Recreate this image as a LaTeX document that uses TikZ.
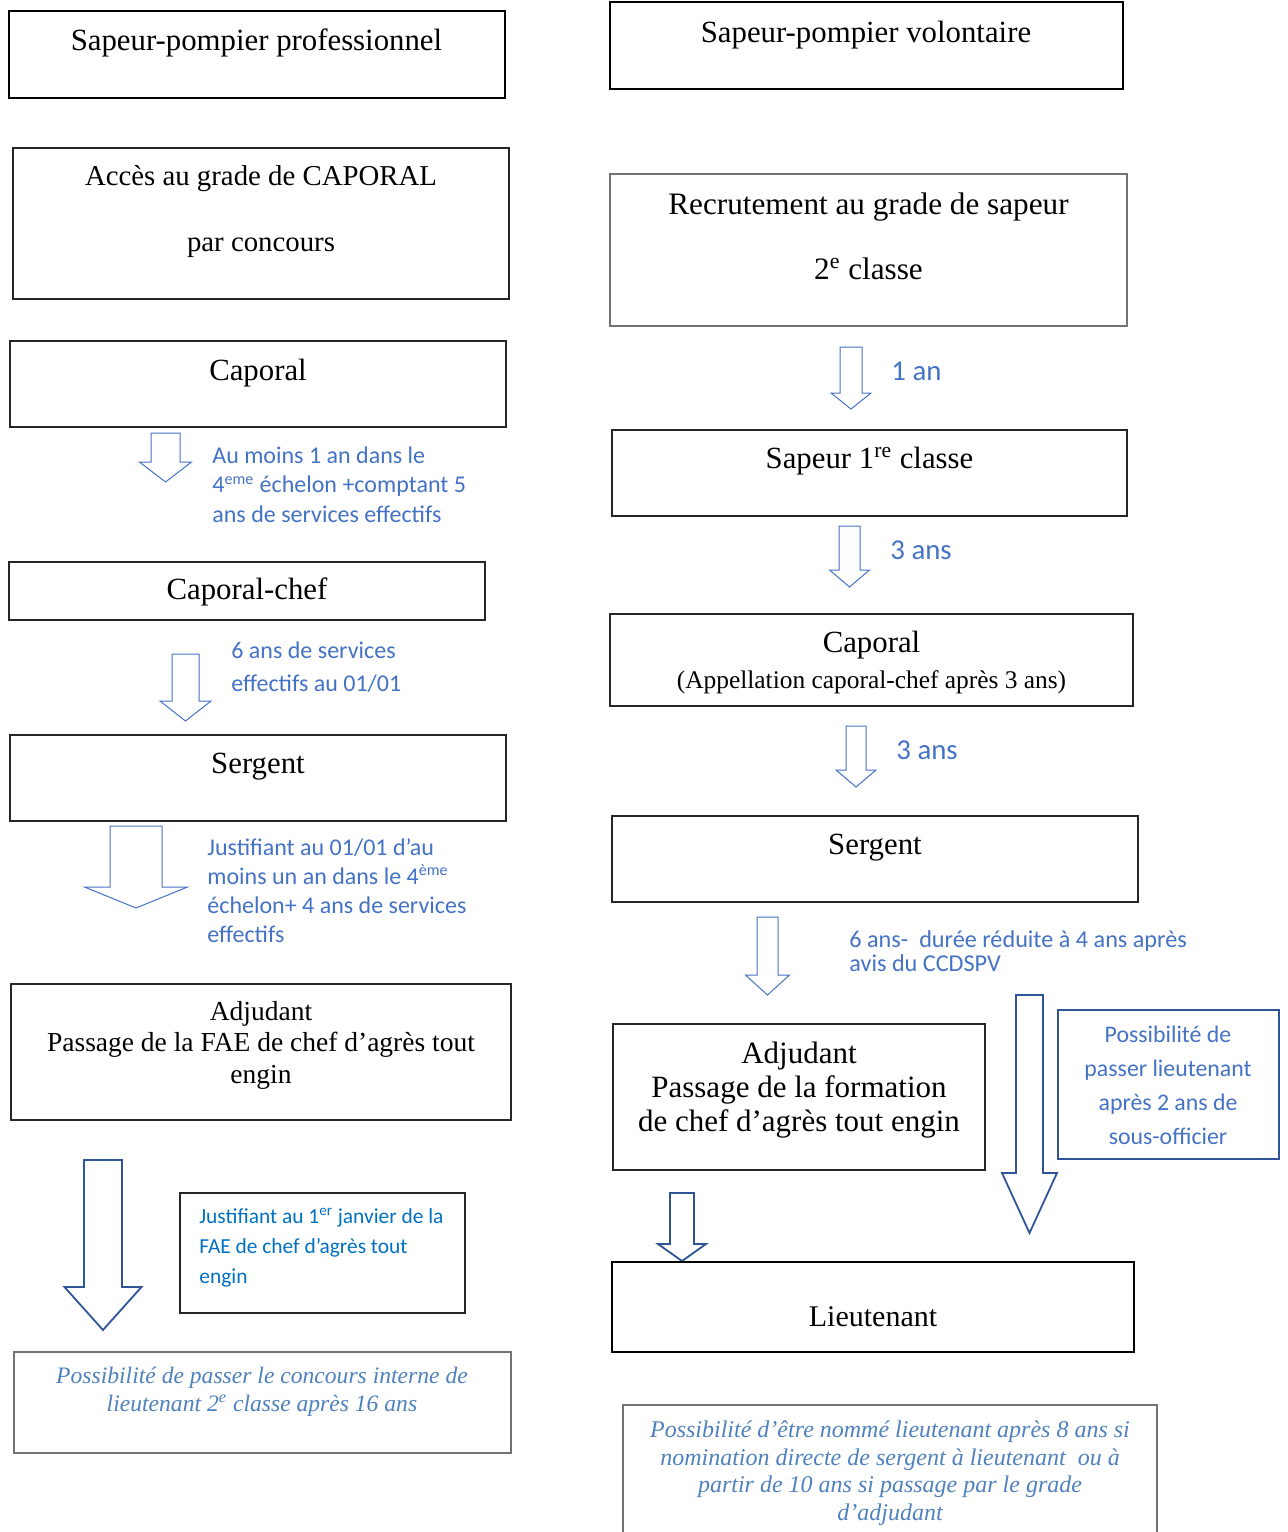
\documentclass[tikz,border=0pt]{standalone}
\usepackage{fontspec}
\setmainfont{Liberation Serif}
\newfontfamily\calibfont{Carlito}
\usepackage{xcolor}
\definecolor{pfBlue}{RGB}{68,114,196}
\definecolor{pfDark}{RGB}{47,85,151}
\definecolor{pfText}{RGB}{0,112,192}
\definecolor{pfItal}{RGB}{79,129,189}
\usetikzlibrary{positioning}

% hollow block arrow: style, x centre, y top, y head, y tip, half shaft, half head
\newcommand{\flechebloc}[7]{%
  \draw[#1] ({#2-#6},#3) -- ({#2+#6},#3) -- ({#2+#6},#4) -- ({#2+#7},#4)
    -- (#2,#5) -- ({#2-#7},#4) -- ({#2-#6},#4) -- cycle;}

\begin{document}
\begin{tikzpicture}[x=0.5pt, y=-0.5pt,
    grade/.style={draw=black!85, line width=0.6pt, inner sep=0pt, outer sep=0pt},
    gradefort/.style={grade, draw=black, line width=1.2pt},
    gradegris/.style={grade, draw=black!55},
    txtgrade/.style={font=\fontsize{15.4}{18}\selectfont, align=center, inner sep=0pt},
    duree/.style={font=\calibfont\fontsize{12}{14.75}\selectfont, text=pfBlue, align=left, anchor=west, inner sep=0pt},
    fleche/.style={draw=pfBlue, line width=0.5pt},
    flechefonce/.style={draw=pfDark, line width=0.9pt}]
    \def\px{0.5pt}
    \useasboundingbox (0,0) rectangle (1288,1532);

    % ---- left column: professionnel ----
    \node[gradefort, minimum width=496*\px, minimum height=87*\px] (pro) at (257,54.5) {};
    \node[txtgrade] (protxt) at (256.5,43) {Sapeur-pompier professionnel};

    \node[grade, minimum width=496*\px, minimum height=151*\px] (acces) at (261,223.5) {};
    \node[txtgrade, font=\fontsize{14.4}{33}\selectfont] (accestxt) at (261,212) {Accès au grade de CAPORAL\\par concours};

    \node[grade, minimum width=496*\px, minimum height=86*\px] (cap) at (258,384) {};
    \node[txtgrade] (captxt) at (258,373) {Caporal};

    \flechebloc{fleche}{165.5}{433}{462}{482}{14.5}{26}
    \node[duree] (d1) at (212,484.5) {Au moins 1 an dans le\\4\textsuperscript{eme} échelon +comptant 5\\ans de services effectifs};

    \node[grade, minimum width=476*\px, minimum height=58*\px] (capchef) at (247,591) {};
    \node[txtgrade] (capcheftxt) at (247,592) {Caporal-chef};

    \flechebloc{fleche}{185.5}{654}{701}{721}{13.5}{25.5}
    \node[duree, font=\calibfont\fontsize{12}{16.5}\selectfont] (d2) at (231,667.5) {6 ans de services\\effectifs au 01/01};

    \node[grade, minimum width=496*\px, minimum height=86*\px] (serg) at (258,778) {};
    \node[txtgrade] (sergtxt) at (258,767) {Sergent};

    \flechebloc{fleche}{136}{826}{887}{908}{26}{51.5}
    \node[duree, font=\calibfont\fontsize{12}{14.5}\selectfont] (d3) at (207,890.5) {Justifiant au 01/01 d’au\\moins un an dans le 4\textsuperscript{ème}\\échelon+ 4 ans de services\\effectifs};

    \node[grade, minimum width=500*\px, minimum height=136*\px] (adj) at (261,1052) {};
    \node[txtgrade, font=\fontsize{13.75}{15.75}\selectfont] (adjtxt) at (261,1045) {Adjudant\\Passage de la FAE de chef d’agrès tout\\engin};

    \flechebloc{flechefonce}{103}{1160}{1287}{1330}{19}{38.5}
    \node[grade, minimum width=285*\px, minimum height=120*\px] (fae) at (322.5,1253) {};
    \node[duree, font=\calibfont\fontsize{10.7}{15}\selectfont, text=pfText] (faetxt) at (199,1248) {Justifiant au 1\textsuperscript{er} janvier de la\\FAE de chef d’agrès tout\\engin};

    \node[gradegris, minimum width=497*\px, minimum height=101*\px] (concours) at (262.5,1402.5) {};
    \node[txtgrade, font=\itshape\fontsize{11.8}{14}\selectfont, text=pfItal] (concourstxt) at (262,1392) {Possibilité de passer le concours interne de\\lieutenant 2\textsuperscript{e} classe après 16 ans};

    % ---- right column: volontaire ----
    \node[gradefort, minimum width=513*\px, minimum height=87*\px] (vol) at (866.5,45.5) {};
    \node[txtgrade] (voltxt) at (866,35) {Sapeur-pompier volontaire};

    \node[gradegris, minimum width=517*\px, minimum height=152*\px] (recr) at (868.5,250) {};
    \node[txtgrade, font=\fontsize{15.6}{32.5}\selectfont] (recrtxt) at (868.5,236) {Recrutement au grade de sapeur\\2\textsuperscript{e} classe};

    \flechebloc{fleche}{851}{347}{393}{409}{11}{20}
    \node[duree, font=\calibfont\fontsize{14.4}{16}\selectfont] (d4) at (891,371) {1 an};

    \node[grade, minimum width=515*\px, minimum height=86*\px] (sap1) at (869.5,473) {};
    \node[txtgrade] (sap1txt) at (869.5,461) {Sapeur 1\textsuperscript{re} classe};

    \flechebloc{fleche}{849.5}{526}{570}{587}{10.5}{20}
    \node[duree, font=\calibfont\fontsize{14.4}{16}\selectfont] (d5) at (890,550) {3 ans};

    \node[grade, minimum width=523*\px, minimum height=92*\px] (capv) at (871.5,660) {};
    \node[txtgrade] (capvtxt) at (871.5,663) {Caporal\\{\fontsize{12.7}{14}\selectfont(Appellation caporal-chef après 3 ans)}};

    \flechebloc{fleche}{856}{726}{770}{787}{10}{20}
    \node[duree, font=\calibfont\fontsize{14.4}{16}\selectfont] (d6) at (896,750) {3 ans};

    \node[grade, minimum width=526*\px, minimum height=86*\px] (sergv) at (875,859) {};
    \node[txtgrade] (sergvtxt) at (875,848) {Sergent};

    \flechebloc{fleche}{767.5}{917}{975}{995}{10.5}{22}
    \node[duree, font=\calibfont\fontsize{12.1}{12}\selectfont] (d7) at (849,951) {6 ans-\ \ durée réduite à 4 ans après\\avis du CCDSPV};

    \node[grade, minimum width=372*\px, minimum height=146*\px] (adjv) at (799,1097) {};
    \node[txtgrade, font=\fontsize{15.5}{17}\selectfont] (adjvtxt) at (799,1090) {Adjudant\\Passage de la formation\\de chef d’agrès tout engin};

    \flechebloc{flechefonce}{1029.5}{995}{1173}{1233}{13.5}{27.5}
    \node[grade, draw=pfDark, line width=0.8pt, minimum width=221*\px, minimum height=149*\px] (lieut) at (1168.5,1084.5) {};
    \node[txtgrade, font=\calibfont\fontsize{11.9}{17}\selectfont, text=pfBlue] (lieuttxt) at (1168,1085.5) {Possibilité de\\passer lieutenant\\après 2 ans de\\sous-officier};

    \flechebloc{flechefonce}{682}{1193}{1244}{1261}{12}{24}
    \node[gradefort, minimum width=522*\px, minimum height=90*\px] (ltn) at (873,1307) {};
    \node[txtgrade, font=\fontsize{15}{18}\selectfont] (ltntxt) at (873,1317) {Lieutenant};

    \node[gradegris, minimum width=534*\px, minimum height=140*\px] (nomme) at (890,1475) {};
    \node[txtgrade, font=\itshape\fontsize{12}{13.75}\selectfont, text=pfItal] (nommetxt) at (890,1473) {Possibilité d’être nommé lieutenant après 8 ans si\\nomination directe de sergent à lieutenant\ \ ou à\\partir de 10 ans si passage par le grade\\d’adjudant};
\end{tikzpicture}
\end{document}
